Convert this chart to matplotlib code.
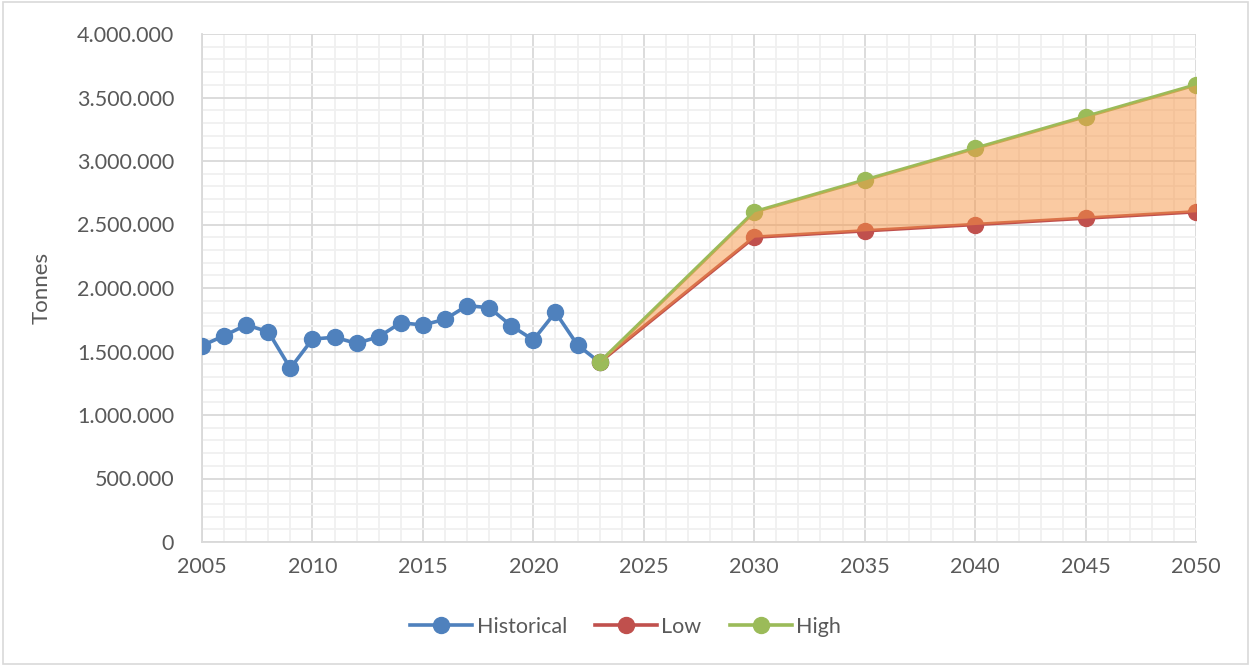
import numpy as np
import matplotlib.pyplot as plt
from matplotlib.ticker import FuncFormatter, MultipleLocator

# historical tonnes per year
hist_years = list(range(2005, 2024))
hist_values = [1546000, 1624000, 1709000, 1656000, 1368000, 1598000, 1612000,
               1564000, 1616000, 1726000, 1709000, 1753000, 1861000, 1845000,
               1703000, 1591000, 1809000, 1551000, 1415000]

# projections
proj_years = [2023, 2030, 2035, 2040, 2045, 2050]
low_values = [1415000, 2400000, 2450000, 2500000, 2550000, 2600000]
high_values = [1415000, 2600000, 2850000, 3100000, 3350000, 3600000]

blue = "#4F81BD"
red = "#C0504D"
green = "#9BBB59"
orange = "#F79646"
text_col = "#595959"

plt.rcParams['font.family'] = ['Lato', 'DejaVu Sans']

fig = plt.figure(figsize=(12.51, 6.66), dpi=100)
ax = fig.add_axes([202 / 1251, 1 - 542 / 666, (1196 - 202) / 1251, (542 - 34) / 666])

ax.plot(hist_years, hist_values, color=blue, lw=2.6, marker="o", ms=11.5,
        label="Historical", zorder=3)
ax.plot(proj_years, low_values, color=red, lw=2.6, marker="o", ms=11.5,
        label="Low", zorder=3)
ax.plot(proj_years, high_values, color=green, lw=2.6, marker="o", ms=11.5,
        label="High", zorder=3)
ax.fill_between(proj_years, low_values, high_values, color=orange, alpha=0.5,
                lw=0, zorder=4)

ax.set_xlim(2005, 2050)
ax.set_ylim(0, 4000000)
ax.xaxis.set_major_locator(MultipleLocator(5))
ax.xaxis.set_minor_locator(MultipleLocator(1))
ax.yaxis.set_major_locator(MultipleLocator(500000))
ax.yaxis.set_minor_locator(MultipleLocator(100000))
ax.yaxis.set_major_formatter(FuncFormatter(lambda v, p: f"{int(v):,}".replace(",", ".")))

ax.grid(which="major", color="#D9D9D9", lw=1.3, zorder=0)
ax.grid(which="minor", color="#F0F0F0", lw=1.3, zorder=0)
ax.set_axisbelow(True)

for s in ["top", "right"]:
    ax.spines[s].set_visible(False)
ax.spines["left"].set_color("#D9D9D9")
ax.spines["bottom"].set_color("#D9D9D9")
ax.spines["left"].set_linewidth(1.3)
ax.spines["bottom"].set_linewidth(1.3)

ax.tick_params(which="both", length=0, labelsize=15.5, colors=text_col)
ax.tick_params(axis="x", pad=11)
ax.tick_params(axis="y", pad=20)

ax.set_ylabel("Tonnes", fontsize=16, color=text_col, labelpad=18)

leg = fig.legend(loc="center", bbox_to_anchor=(0.5, 1 - 627 / 666), ncol=3,
                 frameon=False, fontsize=15.5, handlelength=2.9, columnspacing=1.3,
                 handletextpad=0.2)
for t in leg.get_texts():
    t.set_color(text_col)

# chart border
fig.patches.append(plt.Rectangle((0.002, 0.003), 0.996, 0.994, transform=fig.transFigure,
                                 fill=False, edgecolor="#D9D9D9", lw=1.2))

fig.savefig("out.png", dpi=100)
